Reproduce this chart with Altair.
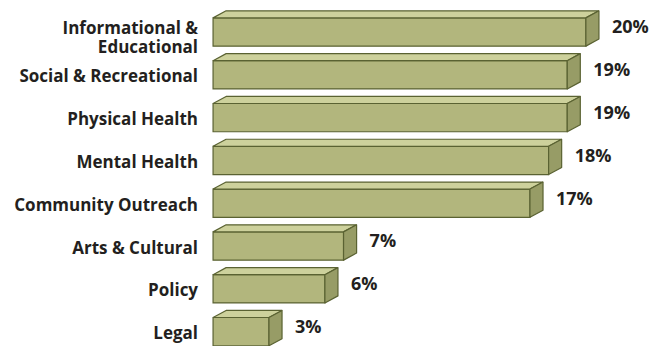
import altair as alt
import pandas as pd

categories = ["Informational &\nEducational", "Social & Recreational", "Physical Health",
              "Mental Health", "Community Outreach", "Arts & Cultural", "Policy", "Legal"]
values = [20, 19, 19, 18, 17, 7, 6, 3]

# style constants for the pseudo-3D bars (axis units)
HALF = 0.33
DX = 0.7
DY = 0.165
LINE_SHIFT = 0.14   # upward shift of two-line labels, in row units

FRONT = "#b2b67d"
TOP = "#cdd19c"
SIDE = "#979c66"
EDGE = "#5a6232"
TEXT = "#231f20"

rows = list(range(len(categories)))
front = pd.DataFrame({
    "cat": categories, "row": rows, "value": values,
    "y0": [r - HALF for r in rows], "y1": [r + HALF for r in rows],
    "label": [f"{v}%" for v in values],
    "ylab": [r - DY / 2 for r in rows],
    "ycat": [r + 0.06 - (len(c.split("\n")) - 1) * LINE_SHIFT for r, c in zip(rows, categories)],
    "xlab": [v + DX for v in values],
    "catlines": [c.split("\n") for c in categories],
})

top_pts = []
side_pts = []
for r, v in zip(rows, values):
    top_pts.append({"bar": r, "ty": r - HALF, "tx": 0.0, "tx2": float(v)})
    top_pts.append({"bar": r, "ty": r - HALF - DY, "tx": DX, "tx2": v + DX})
    for k, (px, py) in enumerate([(v, r - HALF), (v, r + HALF), (v + DX, r + HALF - DY),
                                  (v + DX, r - HALF - DY), (v, r - HALF)]):
        side_pts.append({"bar": r, "k": k, "sx": float(px), "sy": py})
top_df = pd.DataFrame(top_pts)
side_df = pd.DataFrame(side_pts)

W, H = 645, 338
xs = alt.Scale(domain=[-11, 23.6], nice=False, zero=False)
ys = alt.Scale(domain=[-0.561, 7.336], nice=False, zero=False, reverse=True)
noax = None

front_l = alt.Chart(front).mark_rect(fill=FRONT, stroke=EDGE, strokeWidth=1.2).encode(
    x=alt.X("value0:Q", scale=xs, axis=noax), x2="value:Q",
    y=alt.Y("y0:Q", scale=ys, axis=noax), y2="y1:Q",
).transform_calculate(value0="0")

top_l = alt.Chart(top_df).mark_area(orient="horizontal", fill=TOP, stroke=EDGE,
                                    strokeWidth=1.2).encode(
    y=alt.Y("ty:Q", scale=ys, axis=noax),
    x=alt.X("tx:Q", scale=xs, axis=noax, stack=None), x2="tx2:Q",
    detail="bar:N",
)

side_l = alt.Chart(side_df).mark_line(fill=SIDE, stroke=EDGE, strokeWidth=1.2,
                                      strokeJoin="round").encode(
    x=alt.X("sx:Q", scale=xs, axis=noax),
    y=alt.Y("sy:Q", scale=ys, axis=noax),
    detail="bar:N", order="k:Q",
)

pct = alt.Chart(front).mark_text(align="left", baseline="middle", dx=13, font="Open Sans",
                                 fontWeight="bold", fontSize=18, color=TEXT).encode(
    x=alt.X("xlab:Q", scale=xs, axis=noax),
    y=alt.Y("ylab:Q", scale=ys, axis=noax),
    text="label:N",
)

cats = alt.Chart(front).mark_text(align="right", baseline="middle", dx=-15, font="Open Sans",
                                  fontWeight="bold", fontSize=17, color=TEXT, lineHeight=19).encode(
    x=alt.X("zero:Q", scale=xs, axis=noax),
    y=alt.Y("ycat:Q", scale=ys, axis=noax),
    text="catlines",
).transform_calculate(zero="0")

chart = alt.layer(front_l, top_l, side_l, pct, cats).properties(
    width=W, height=H, autosize=alt.AutoSizeParams(type="none"), padding=0
).configure_view(stroke=None)

chart.save("out.html", embed_options={"renderer": "svg", "actions": False})
